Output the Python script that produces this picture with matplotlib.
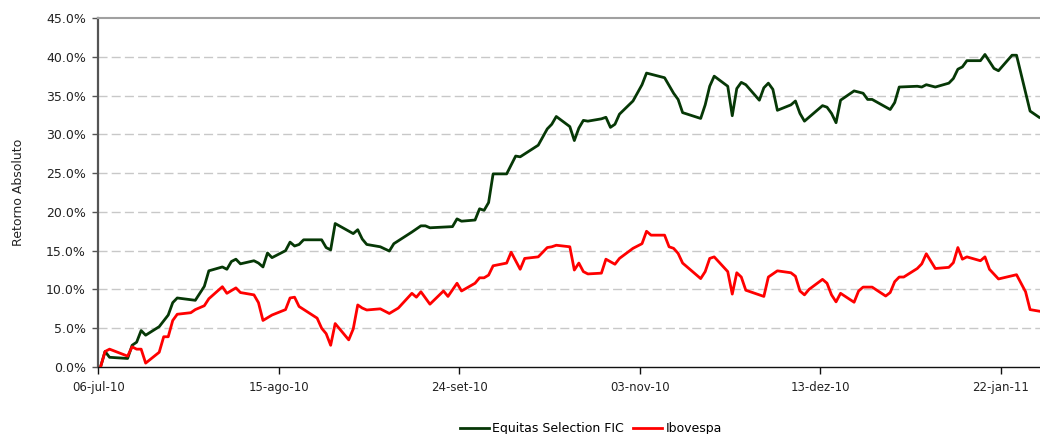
import numpy as np
import matplotlib
matplotlib.use('Agg')
import matplotlib.pyplot as plt
from matplotlib.lines import Line2D

# days since 06-jul-10, cumulative return in %
eq_days = [0, 1, 2, 6, 7, 8, 9, 10, 13, 15, 16, 17, 21, 23, 24, 27, 28, 29, 30, 31,
           34, 35, 36, 37, 38, 41, 42, 43, 44, 45, 49, 50, 51, 52, 56, 57, 58, 59, 62, 64,
           65, 69, 71, 72, 73, 78, 79, 80, 83, 84, 85, 86, 87, 90, 92, 93, 97, 99, 100, 101,
           104, 105, 106, 107, 108, 111, 112, 113, 114, 115, 118, 120, 121, 125, 127, 128, 129, 133, 134, 135,
           136, 139, 140, 141, 142, 143, 146, 147, 148, 149, 150, 153, 154, 155, 156, 160, 161, 162, 163, 164,
           167, 169, 170, 171, 175, 176, 177, 181, 182, 183, 185, 188, 189, 190, 191, 192, 195, 196, 198, 199,
           202, 203, 206, 208]
eq_vals = [0.0, 2.0, 1.25, 1.1, 2.8, 3.2, 4.7, 4.1, 5.2, 6.7, 8.3, 8.9, 8.6, 10.4, 12.4, 12.9, 12.6, 13.6, 13.9, 13.3,
           13.7, 13.4, 12.9, 14.7, 14.1, 15.0, 16.1, 15.6, 15.8, 16.4, 16.4, 15.4, 15.1, 18.5, 17.2, 17.7, 16.5, 15.8, 15.5, 14.95,
           15.9, 17.4, 18.2, 18.2, 17.95, 18.1, 19.1, 18.8, 18.95, 20.4, 20.2, 21.2, 24.9, 24.9, 27.2, 27.1, 28.6, 30.7, 31.3, 32.3,
           31.0, 29.2, 30.8, 31.8, 31.7, 32.0, 32.2, 30.9, 31.3, 32.6, 34.3, 36.4, 37.9, 37.3, 35.3, 34.5, 32.8, 32.05, 33.8, 36.2,
           37.5, 36.2, 32.4, 35.9, 36.7, 36.4, 34.4, 36.0, 36.6, 35.8, 33.1, 33.8, 34.3, 32.7, 31.7, 33.7, 33.5, 32.7, 31.5, 34.4,
           35.6, 35.3, 34.5, 34.5, 33.2, 34.1, 36.1, 36.2, 36.1, 36.4, 36.1, 36.6, 37.2, 38.4, 38.7, 39.5, 39.5, 40.3, 38.5, 38.2,
           40.2, 40.2, 33.0, 32.2]

ibov_days = [0, 1, 2, 6, 7, 8, 9, 10, 13, 14, 15, 16, 17, 20, 21, 23, 24, 27, 28, 30,
             31, 34, 35, 36, 38, 41, 42, 43, 44, 48, 49, 50, 51, 52, 55, 56, 57, 58, 59, 62,
             64, 66, 69, 70, 71, 73, 76, 77, 79, 80, 83, 84, 85, 86, 87, 90, 91, 93, 94, 97,
             99, 100, 101, 104, 105, 106, 107, 108, 111, 112, 114, 115, 118, 120, 121, 122, 125, 126, 127, 128,
             129, 133, 134, 135, 136, 139, 140, 141, 142, 143, 147, 148, 150, 153, 154, 155, 156, 157, 160, 161,
             162, 163, 164, 167, 168, 169, 171, 174, 175, 176, 177, 178, 181, 182, 183, 185, 188, 189, 190, 191,
             192, 195, 196, 197, 199, 203, 205, 206, 208]
ibov_vals = [0.0, 2.0, 2.3, 1.4, 2.6, 2.3, 2.3, 0.5, 1.9, 3.9, 3.9, 6.0, 6.8, 7.0, 7.4, 7.9, 8.8, 10.35, 9.5, 10.2,
             9.6, 9.3, 8.3, 6.0, 6.7, 7.4, 8.9, 9.0, 7.8, 6.3, 5.0, 4.3, 2.8, 5.6, 3.5, 4.9, 8.0, 7.6, 7.35, 7.5,
             6.9, 7.6, 9.5, 9.0, 9.7, 8.1, 9.8, 9.1, 10.8, 9.8, 10.8, 11.5, 11.5, 11.85, 13.05, 13.4, 14.8, 12.6, 14.0, 14.2,
             15.4, 15.5, 15.7, 15.5, 12.5, 13.4, 12.3, 12.0, 12.1, 13.9, 13.25, 14.0, 15.3, 15.9, 17.5, 17.0, 17.0, 15.5, 15.3, 14.65,
             13.4, 11.4, 12.3, 14.0, 14.2, 12.3, 9.4, 12.15, 11.6, 9.9, 9.1, 11.6, 12.4, 12.15, 11.7, 9.8, 9.3, 10.0, 11.3, 10.8,
             9.3, 8.4, 9.5, 8.35, 9.8, 10.3, 10.3, 9.15, 9.6, 11.0, 11.6, 11.6, 12.7, 13.3, 14.6, 12.7, 12.85, 13.45, 15.4, 13.9,
             14.2, 13.7, 14.2, 12.6, 11.35, 11.9, 9.7, 7.4, 7.2]

tick_days = [0, 40, 80, 120, 160, 200]
tick_labels = ['06-jul-10', '15-ago-10', '24-set-10', '03-nov-10', '13-dez-10', '22-jan-11']

GREEN = '#063806'
RED = '#FF0000'

plt.rcParams['font.family'] = ['DejaVu Sans']

fig = plt.figure(figsize=(10.4, 4.34), dpi=100)
ax = fig.add_axes([0.0945, 0.1544, 0.9055, 0.8041])

# excel date axis puts each point in the middle of its day
ax.plot(np.array(eq_days) + 0.5, eq_vals, color=GREEN, lw=2.0, zorder=3)
ax.plot(np.array(ibov_days) + 0.5, ibov_vals, color=RED, lw=2.0, zorder=3)

ax.set_xlim(0, 208.7)
ax.set_ylim(0, 45)

yt = np.arange(0, 46, 5)
ax.set_yticks(yt)
ax.set_yticklabels([f'{v:.1f}%' for v in yt], fontsize=9, color='#222222')
ax.set_xticks(tick_days)
ax.set_xticklabels(tick_labels, fontsize=8.5, color='#222222')

for v in yt[1:-1]:
    ax.axhline(v, color='#C8C8C8', lw=1.0, dashes=(6.5, 3.0), zorder=1)

ax.spines['right'].set_visible(False)
ax.spines['top'].set_color('#A0A0A0')
ax.spines['top'].set_linewidth(1.5)
ax.spines['left'].set_color('#555555')
ax.spines['left'].set_linewidth(1.6)
ax.spines['bottom'].set_color('#111111')
ax.spines['bottom'].set_linewidth(1.0)

ax.tick_params(axis='y', length=4, width=1, color='#555555', pad=5)
ax.tick_params(axis='x', length=5, width=1, color='#111111', pad=5)

ax.set_ylabel('Retorno Absoluto', fontsize=9, color='#222222')
ax.yaxis.set_label_coords(-0.078, 0.5)

handles = [Line2D([], [], color=GREEN, lw=2.0), Line2D([], [], color=RED, lw=2.0)]
fig.legend(handles, ['Equitas Selection FIC', 'Ibovespa'], loc='center',
           bbox_to_anchor=(0.568, 0.012), ncol=2, frameon=False, fontsize=9,
           handlelength=2.3, handletextpad=0.3, columnspacing=0.7)

fig.savefig('out.png', dpi=100)
